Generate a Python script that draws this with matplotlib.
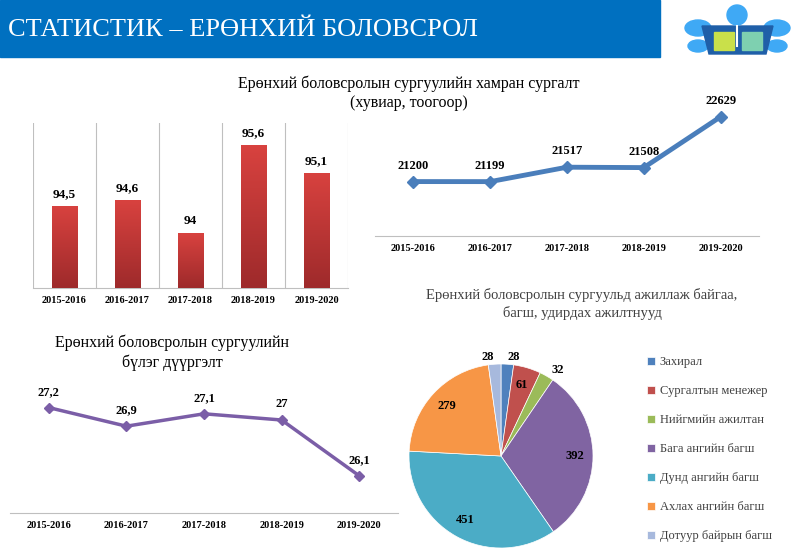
import matplotlib.pyplot as plt
import matplotlib.patches as mpatches
from matplotlib.colors import LinearSegmentedColormap
import numpy as np

plt.rcParams['font.family'] = ['Liberation Serif', 'DejaVu Serif']

# data
years = ['2015-2016', '2016-2017', '2017-2018', '2018-2019', '2019-2020']
coverage_pct = [94.5, 94.6, 94.0, 95.6, 95.1]
coverage_cnt = [21200, 21199, 21517, 21508, 22629]
class_fill = [27.2, 26.9, 27.1, 27.0, 26.1]

staff_names = ['Захирал', 'Сургалтын менежер', 'Нийгмийн ажилтан', 'Бага ангийн багш',
               'Дунд ангийн багш', 'Ахлах ангийн багш', 'Дотуур байрын багш']
staff_counts = [28, 61, 32, 392, 451, 279, 28]
staff_colors = ['#4F81BD', '#C0504D', '#9BBB59', '#8064A2', '#4BACC6', '#F79646', '#A7B9DD']

W, H = 800, 554


def box(l, t, r, b):
    return [l / W, 1 - b / H, (r - l) / W, (b - t) / H]


def fmt(v):
    s = ('%g' % v)
    return s.replace('.', ',')


fig = plt.figure(figsize=(8, 5.54), dpi=100)

# header banner
fig.patches.append(mpatches.Rectangle((0, 1 - 57 / H), 660 / W, 57 / H,
                                      transform=fig.transFigure, color='#0070C0'))
fig.text(8 / W, 1 - 30 / H, 'СТАТИСТИК – ЕРӨНХИЙ БОЛОВСРОЛ', color='white',
         fontsize=19, va='center', ha='left')

# simple logo
lg = fig.add_axes(box(680, 2, 795, 62))
lg.set_xlim(0, 115)
lg.set_ylim(60, 0)
lg.axis('off')
for cx in [18, 97]:
    lg.add_patch(mpatches.Ellipse((cx, 26), 26, 16, color='#3FA9F5'))
    lg.add_patch(mpatches.Ellipse((cx, 44), 20, 12, color='#3FA9F5'))
lg.add_patch(mpatches.Polygon([[22, 24], [93, 24], [86, 52], [29, 52]], color='#1F5FA8'))
lg.add_patch(mpatches.Rectangle((34, 30), 20, 18, color='#C9E04A'))
lg.add_patch(mpatches.Rectangle((62, 30), 20, 18, color='#7ED0B0'))
lg.add_patch(mpatches.Circle((57, 13), 10, color='#3FA9F5'))
lg.plot([57, 57], [24, 44], color='white', lw=1.5)

# bar chart
ax1 = fig.add_axes(box(33, 123, 348, 288))
x = np.arange(len(years))
bars = ax1.bar(x, coverage_pct, width=0.41, color='#C0393B', zorder=3)
grad = np.linspace(0, 1, 100).reshape(-1, 1)
cm = LinearSegmentedColormap.from_list('r', ['#9E2A2B', '#D8423F'])
for b in bars:
    bx = b.get_x()
    im = ax1.imshow(grad, cmap=cm, aspect='auto', origin='lower',
                    extent=[bx, bx + b.get_width(), 93, b.get_height()], zorder=4)
    im.set_clip_path(b)
    ax1.annotate(fmt(b.get_height()), (b.get_x() + b.get_width() / 2, b.get_height()),
                 xytext=(0, 4), textcoords='offset points', ha='center', va='bottom',
                 fontsize=9.5, fontweight='bold')
ax1.set_xlim(-0.5, 4.5)
ax1.set_ylim(93, 96)
ax1.set_xticks(x)
ax1.set_xticklabels(years, fontsize=7.5, fontweight='bold')
ax1.set_xticks(np.arange(-0.5, 5, 1), minor=True)
ax1.tick_params(axis='x', which='both', length=0, pad=6)
ax1.grid(axis='x', which='minor', color='#BFBFBF', lw=0.8, zorder=0)
ax1.set_yticks([])
for s in ['top', 'left', 'right']:
    ax1.spines[s].set_visible(False)
ax1.spines['bottom'].set_color('#BFBFBF')

# line chart: coverage count
fig.text(409 / W, 1 - 84 / H, 'Ерөнхий боловсролын сургуулийн хамран сургалт',
         ha='center', va='center', fontsize=11.5)
fig.text(409 / W, 1 - 103 / H, '(хувиар, тоогоор)', ha='center', va='center', fontsize=11.5)
ax2 = fig.add_axes(box(375, 109, 759, 236))
ax2.plot(x, coverage_cnt, color='#4A7EBB', lw=3.5, marker='D', markersize=6, zorder=3)
for xi, v in zip(x, coverage_cnt):
    ax2.annotate(str(v), (xi, v), xytext=(0, 7), textcoords='offset points',
                 ha='center', va='bottom', fontsize=9, fontweight='bold')
ax2.set_xlim(-0.5, 4.5)
ax2.set_ylim(20000, 22800)
ax2.set_xticks(x)
ax2.set_xticklabels(years, fontsize=7.5, fontweight='bold')
ax2.tick_params(axis='x', length=0, pad=6)
ax2.set_yticks([])
for s in ['top', 'left', 'right']:
    ax2.spines[s].set_visible(False)
ax2.spines['bottom'].set_color('#BFBFBF')

# line chart: class fill
fig.text(172 / W, 1 - 343 / H, 'Ерөнхий боловсролын сургуулийн', ha='center', va='center',
         fontsize=11.5)
fig.text(172 / W, 1 - 363 / H, 'бүлэг дүүргэлт', ha='center', va='center', fontsize=11.5)
ax3 = fig.add_axes(box(10, 389, 398, 513))
ax3.plot(x, class_fill, color='#7B5EA7', lw=2.5, marker='D', markersize=5, zorder=3)
for xi, v in zip(x, class_fill):
    ax3.annotate(fmt(v), (xi, v), xytext=(0, 7), textcoords='offset points',
                 ha='center', va='bottom', fontsize=9, fontweight='bold')
ax3.set_xlim(-0.5, 4.5)
ax3.set_ylim(25.5, 27.5)
ax3.set_xticks(x)
ax3.set_xticklabels(years, fontsize=7.5, fontweight='bold')
ax3.tick_params(axis='x', length=0, pad=6)
ax3.set_yticks([])
for s in ['top', 'left', 'right']:
    ax3.spines[s].set_visible(False)
ax3.spines['bottom'].set_color('#BFBFBF')

# pie chart
fig.text(582 / W, 1 - 295 / H, 'Ерөнхий боловсролын сургуульд ажиллаж байгаа,',
         ha='center', va='center', fontsize=10.5, color='#404040')
fig.text(582 / W, 1 - 313 / H, 'багш, удирдах ажилтнууд', ha='center', va='center',
         fontsize=10.5, color='#404040')
ax4 = fig.add_axes(box(409, 364, 593, 548))
wedges, _ = ax4.pie(staff_counts, colors=staff_colors, startangle=90, counterclock=False,
                    wedgeprops=dict(edgecolor='white', linewidth=0.5))
ax4.set_xlim(-1, 1)
ax4.set_ylim(-1, 1)
ax4.set_aspect('equal')
total = sum(staff_counts)
for w, v in zip(wedges, staff_counts):
    ang = np.deg2rad((w.theta1 + w.theta2) / 2)
    cx, cy = np.cos(ang), np.sin(ang)
    if v / total < 0.03:
        side = 'left' if cx > 0 else 'right'
        ax4.text(1.1 * cx, 1.08 * cy, str(v), ha=side, va='center',
                 fontsize=9, fontweight='bold')
    else:
        ax4.text(0.8 * cx, 0.8 * cy, str(v), ha='center', va='center',
                 fontsize=9, fontweight='bold')
fig.legend(wedges, staff_names, loc='upper left', bbox_to_anchor=(636 / W, 1 - 345 / H),
           frameon=False, fontsize=9, labelspacing=1.36, handlelength=0.6, handleheight=0.6,
           handletextpad=0.4, labelcolor='#404040')

fig.savefig('out.png', dpi=100)
